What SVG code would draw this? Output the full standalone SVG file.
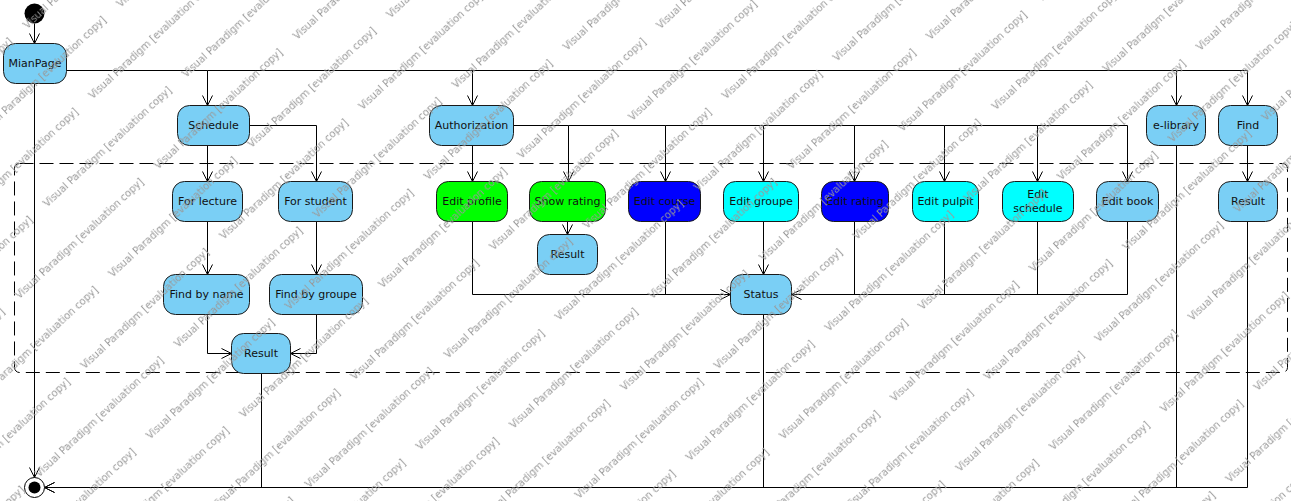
<svg xmlns="http://www.w3.org/2000/svg" width="1291" height="501" viewBox="0 0 1291 501">
<style>
.n{fill:#7ACFF5;stroke:#1a1a1a;stroke-width:1}
.g{fill:#00FF00;stroke:#1a1a1a;stroke-width:1}
.b{fill:#0000FF;stroke:#1a1a1a;stroke-width:1}
.c{fill:#00FFFF;stroke:#1a1a1a;stroke-width:1}
.t{font-family:"DejaVu Sans",sans-serif;font-size:11px;fill:#111;text-anchor:middle;dominant-baseline:central}
.e{fill:none;stroke:#000;stroke-width:1}
.wm{font-family:"DejaVu Sans",sans-serif;font-size:10px;fill:#999}
</style>
<defs>
<marker id="a" markerWidth="12" markerHeight="12" refX="11" refY="6" orient="auto" markerUnits="userSpaceOnUse">
<path d="M1,1 L11,6 L1,11" fill="none" stroke="#000" stroke-width="1"/>
</marker>
<pattern id="w" patternUnits="userSpaceOnUse" width="190" height="96" patternTransform="rotate(-43)">
<text class="wm" x="0" y="40">Visual Paradigm [evaluation copy]</text>
<text class="wm" x="190" y="40">Visual Paradigm [evaluation copy]</text>
<text class="wm" x="83" y="88">Visual Paradigm [evaluation copy]</text>
<text class="wm" x="-107" y="88">Visual Paradigm [evaluation copy]</text>
</pattern>
</defs>
<rect width="1291" height="501" fill="#fff"/>
<g transform="translate(0.5,0.5)">
<rect x="14" y="163" width="1273" height="209" rx="5" fill="none" stroke="#000" stroke-dasharray="14,6"/>
<g id="connectors">
<path class="e" d="M34,23 V43" marker-end="url(#a)"/>
<path class="e" d="M66,70 H207 V105" marker-end="url(#a)"/>
<path class="e" d="M207,70 H472 V105" marker-end="url(#a)"/>
<path class="e" d="M472,70 H1176 V105" marker-end="url(#a)"/>
<path class="e" d="M1176,70 H1247 V105" marker-end="url(#a)"/>
<path class="e" d="M34,83 V477" marker-end="url(#a)"/>
<path class="e" d="M207,145 V181" marker-end="url(#a)"/>
<path class="e" d="M249,125 H316 V181" marker-end="url(#a)"/>
<path class="e" d="M207,221 V274" marker-end="url(#a)"/>
<path class="e" d="M316,221 V274" marker-end="url(#a)"/>
<path class="e" d="M207,314 V353 H231" marker-end="url(#a)"/>
<path class="e" d="M316,314 V353 H290" marker-end="url(#a)"/>
<path class="e" d="M261,373 V487 H44" marker-end="url(#a)"/>
<path class="e" d="M472,145 V181" marker-end="url(#a)"/>
<path class="e" d="M513,125 H568 V181" marker-end="url(#a)"/>
<path class="e" d="M568,125 H665 V181" marker-end="url(#a)"/>
<path class="e" d="M665,125 H763 V181" marker-end="url(#a)"/>
<path class="e" d="M763,125 H854 V181" marker-end="url(#a)"/>
<path class="e" d="M854,125 H944 V181" marker-end="url(#a)"/>
<path class="e" d="M944,125 H1037 V181" marker-end="url(#a)"/>
<path class="e" d="M1037,125 H1127 V181" marker-end="url(#a)"/>
<path class="e" d="M567,221 V234" marker-end="url(#a)"/>
<path class="e" d="M472,221 V294 H730" marker-end="url(#a)"/>
<path class="e" d="M665,221 V294"/>
<path class="e" d="M763,221 V274" marker-end="url(#a)"/>
<path class="e" d="M1127,221 V294 H791" marker-end="url(#a)"/>
<path class="e" d="M854,221 V294"/>
<path class="e" d="M944,221 V294"/>
<path class="e" d="M1037,221 V294"/>
<path class="e" d="M763,314 V487"/>
<path class="e" d="M1176,145 V487"/>
<path class="e" d="M1247,145 V181" marker-end="url(#a)"/>
<path class="e" d="M1247,221 V487 H44" marker-end="url(#a)"/>
</g>
<g id="start"><circle cx="34" cy="13" r="10" fill="#000"/></g>
<g id="end"><circle cx="34" cy="487" r="10" fill="#fff" stroke="#000"/><circle cx="34" cy="487" r="6" fill="#000"/></g>
<g id="mianpage"><rect class="n" x="3" y="43" width="63" height="40" rx="12"/><text class="t" x="34.5" y="63">MianPage</text></g>
<g id="schedule"><rect class="n" x="177" y="105" width="72" height="40" rx="12"/><text class="t" x="213" y="125">Schedule</text></g>
<g id="authorization"><rect class="n" x="429" y="105" width="84" height="40" rx="12"/><text class="t" x="471" y="125">Authorization</text></g>
<g id="elibrary"><rect class="n" x="1146" y="105" width="59" height="40" rx="12"/><text class="t" x="1175.5" y="125">e-library</text></g>
<g id="find"><rect class="n" x="1218" y="105" width="59" height="40" rx="12"/><text class="t" x="1247.5" y="125">Find</text></g>
<g id="forlecture"><rect class="n" x="172" y="181" width="70" height="40" rx="12"/><text class="t" x="207" y="201">For lecture</text></g>
<g id="forstudent"><rect class="n" x="278" y="181" width="74" height="40" rx="12"/><text class="t" x="315" y="201">For student</text></g>
<g id="editprofile"><rect class="g" x="436" y="181" width="71" height="40" rx="12"/><text class="t" x="471.5" y="201">Edit profile</text></g>
<g id="showrating"><rect class="g" x="529" y="181" width="76" height="40" rx="12"/><text class="t" x="567" y="201">Show rating</text></g>
<g id="editcourse"><rect class="b" x="628" y="181" width="72" height="40" rx="12"/><text class="t" x="664" y="201">Edit course</text></g>
<g id="editgroupe"><rect class="c" x="723" y="181" width="75" height="40" rx="12"/><text class="t" x="760.5" y="201">Edit groupe</text></g>
<g id="editrating"><rect class="b" x="821" y="181" width="67" height="40" rx="12"/><text class="t" x="854.5" y="201">Edit rating</text></g>
<g id="editpulpit"><rect class="c" x="912" y="181" width="66" height="40" rx="12"/><text class="t" x="945" y="201">Edit pulpit</text></g>
<g id="editschedule"><rect class="c" x="1002" y="181" width="71" height="40" rx="12"/><text class="t" x="1037.5" y="194">Edit</text><text class="t" x="1037.5" y="208">schedule</text></g>
<g id="editbook"><rect class="n" x="1096" y="181" width="62" height="40" rx="12"/><text class="t" x="1127" y="201">Edit book</text></g>
<g id="result4"><rect class="n" x="1218" y="181" width="59" height="40" rx="12"/><text class="t" x="1247.5" y="201">Result</text></g>
<g id="result2"><rect class="n" x="537" y="234" width="60" height="40" rx="12"/><text class="t" x="567" y="254">Result</text></g>
<g id="findbyname"><rect class="n" x="163" y="274" width="86" height="40" rx="12"/><text class="t" x="206" y="294">Find by name</text></g>
<g id="findbygroupe"><rect class="n" x="269" y="274" width="93" height="40" rx="12"/><text class="t" x="315.5" y="294">Find by groupe</text></g>
<g id="status"><rect class="n" x="730" y="274" width="61" height="40" rx="12"/><text class="t" x="760.5" y="294">Status</text></g>
<g id="result1"><rect class="n" x="231" y="333" width="59" height="40" rx="12"/><text class="t" x="260.5" y="353">Result</text></g>
</g>
<rect id="watermark" width="1291" height="501" fill="url(#w)" pointer-events="none"/>
</svg>
